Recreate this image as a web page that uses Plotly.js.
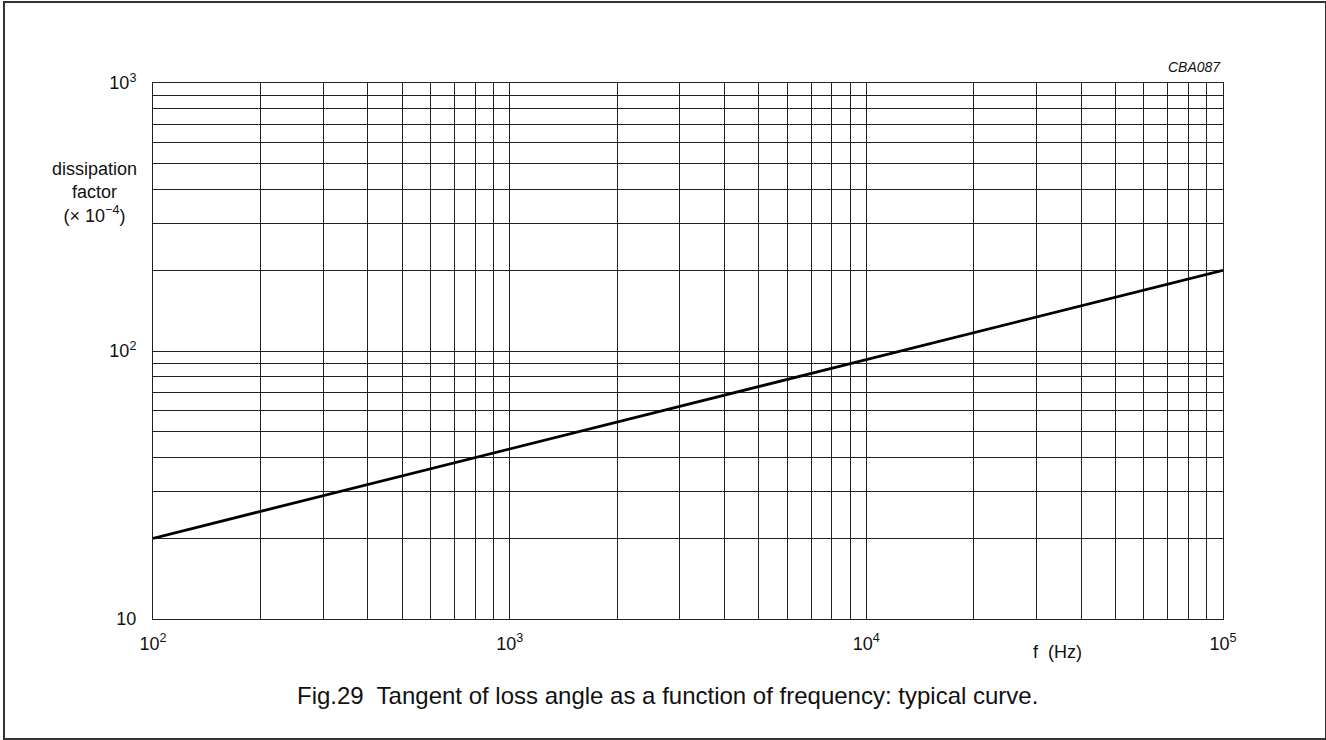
<!DOCTYPE html>
<html>
<head>
<meta charset="utf-8">
<script src="https://cdn.plot.ly/plotly-3.0.1.min.js"></script>
<style>
  html, body { margin: 0; padding: 0; background: #fff; }
  #wrap { position: relative; width: 1326px; height: 740px; }
  #chart { width: 1326px; height: 740px; }
  #frame { position: absolute; left: 3px; top: 1px; width: 1320px; height: 735px;
           border: 2px solid #333; pointer-events: none; }
</style>
</head>
<body>
<div id="wrap">
  <div id="chart"></div>
  <div id="frame"></div>
</div>
<script>
// Data (frequency in Hz, dissipation factor x 1e-4)
var frequency = [100, 1000, 10000, 100000];
var dissipation = [20, 43, 93, 200];

// Axis ticks
var xTickVals = [100, 1000, 10000, 100000];
var xTickText = ['10<sup>2</sup>', '10<sup>3</sup>', '10<sup>4</sup>', '10<sup>5</sup>'];
var yTickVals = [10, 100, 1000];
var yTickText = ['10', '10<sup>2</sup>', '10<sup>3</sup>'];

// Minor grid positions
var xMinor = [200, 300, 400, 500, 600, 700, 800, 900,
              2000, 3000, 4000, 5000, 6000, 7000, 8000, 9000,
              20000, 30000, 40000, 50000, 60000, 70000, 80000, 90000];
var yMinor = [20, 30, 40, 50, 60, 70, 80, 90,
              200, 300, 400, 500, 600, 700, 800, 900];

// Texts
var yTitle = 'dissipation<br>factor<br>(\u00d7 10<sup>\u22124</sup>)';
var xTitle = 'f  (Hz)';
var caption = 'Fig.29  Tangent of loss angle as a function of frequency: typical curve.';
var code = 'CBA087';

var font = 'Liberation Sans, Arial, Helvetica, sans-serif';
var gridCol = '#222';

var trace = {
  x: frequency, y: dissipation, type: 'scatter', mode: 'lines',
  line: {color: '#000', width: 2.8}, hoverinfo: 'skip', showlegend: false
};

var layout = {
  width: 1326, height: 740,
  margin: {l: 153, r: 103, t: 83, b: 121, pad: 0},
  paper_bgcolor: '#fff', plot_bgcolor: '#fff',
  font: {family: font, size: 18, color: '#111'},
  showlegend: false,
  xaxis: {
    type: 'log', range: [2, 5], autorange: false,
    tickmode: 'array', tickvals: xTickVals, ticktext: xTickText,
    ticks: '', showgrid: true, gridcolor: gridCol, gridwidth: 1,
    showline: true, linecolor: gridCol, linewidth: 1, mirror: true,
    zeroline: false, ticklabelstandoff: 8,
    tickfont: {family: font, size: 18, color: '#111'},
    minor: {tickmode: 'array', tickvals: xMinor, showgrid: true, gridcolor: gridCol, gridwidth: 1, ticks: ''}
  },
  yaxis: {
    type: 'log', range: [1, 3], autorange: false,
    tickmode: 'array', tickvals: yTickVals, ticktext: yTickText,
    ticks: '', showgrid: true, gridcolor: gridCol, gridwidth: 1,
    showline: true, linecolor: gridCol, linewidth: 1, mirror: true,
    zeroline: false, ticklabelstandoff: 12,
    tickfont: {family: font, size: 18, color: '#111'},
    minor: {tickmode: 'array', tickvals: yMinor, showgrid: true, gridcolor: gridCol, gridwidth: 1, ticks: ''}
  },
  annotations: [
    {text: yTitle, xref: 'paper', yref: 'paper', x: -0.055, y: 0.795,
     xanchor: 'center', yanchor: 'middle', showarrow: false, align: 'center',
     font: {family: font, size: 18, color: '#111'}},
    {text: xTitle, xref: 'paper', yref: 'paper', x: 0.845, y: -0.062,
     xanchor: 'center', yanchor: 'middle', showarrow: false,
     font: {family: font, size: 18, color: '#111'}},
    {text: caption, xref: 'paper', yref: 'paper', x: 0.481, y: -0.142,
     xanchor: 'center', yanchor: 'middle', showarrow: false,
     font: {family: font, size: 24, color: '#111'}},
    {text: '<i>' + code + '</i>', xref: 'paper', yref: 'paper', x: 1.0, y: 1.03,
     xanchor: 'right', yanchor: 'middle', showarrow: false,
     font: {family: font, size: 14, color: '#111'}}
  ]
};

Plotly.newPlot('chart', [trace], layout, {staticPlot: true, displayModeBar: false});
</script>
</body>
</html>
